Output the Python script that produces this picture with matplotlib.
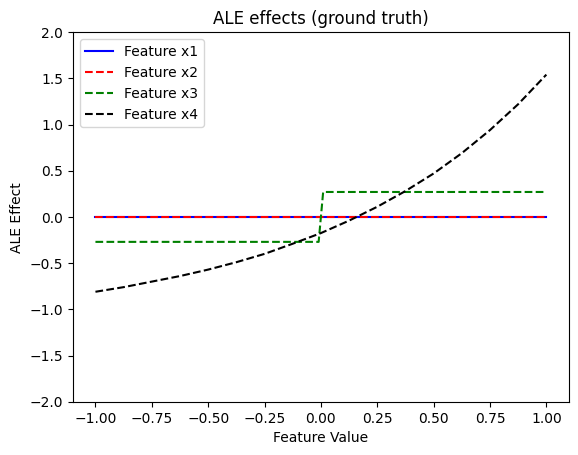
import matplotlib
matplotlib.use("Agg")
import matplotlib.pyplot as plt

# Feature x1 and x2 (flat at zero)
x12 = [-1.0, 1.0]
y_x1 = [0.0, 0.0]
y_x2 = [0.0, 0.0]

# Feature x3 (step at zero)
x3 = [-1.0, -0.01, 0.01, 1.0]
y_x3 = [-0.27, -0.27, 0.27, 0.27]

# Feature x4
x4 = [-1.0, -0.875, -0.75, -0.625, -0.5, -0.375, -0.25, -0.125, 0.0,
      0.125, 0.25, 0.375, 0.5, 0.625, 0.75, 0.875, 1.0]
y_x4 = [-0.81, -0.76, -0.70, -0.64, -0.57, -0.49, -0.40, -0.29, -0.175,
        -0.04, 0.11, 0.28, 0.47, 0.69, 0.94, 1.22, 1.54]

fig, ax = plt.subplots(figsize=(6.4, 4.8), dpi=100)
ax.plot(x12, y_x1, color="blue", linestyle="-", label="Feature x1")
ax.plot(x12, y_x2, color="red", linestyle="--", label="Feature x2")
ax.plot(x3, y_x3, color="green", linestyle="--", label="Feature x3")
ax.plot(x4, y_x4, color="black", linestyle="--", label="Feature x4")
ax.set_ylim(-2, 2)
ax.set_xlabel("Feature Value")
ax.set_ylabel("ALE Effect")
ax.set_title("ALE effects (ground truth)")
ax.legend(loc="upper left")
fig.savefig("out.png", dpi=100, bbox_inches="tight")
